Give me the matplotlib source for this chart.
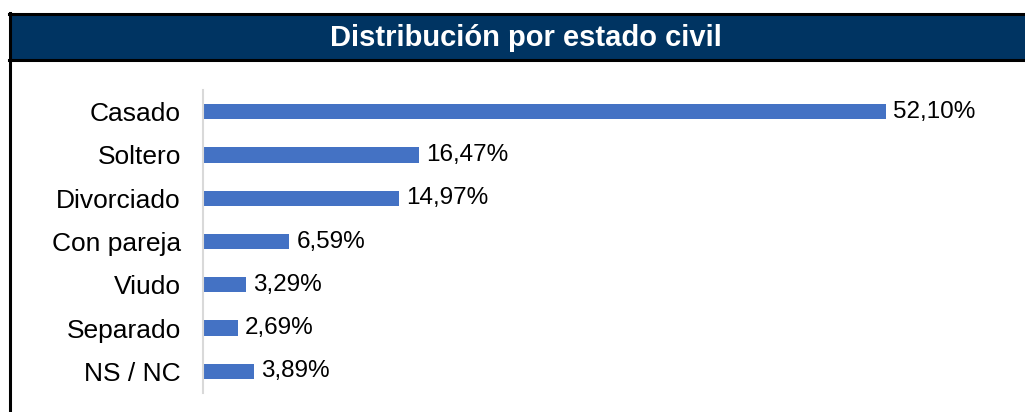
import matplotlib.pyplot as plt
from matplotlib.patches import Rectangle
from matplotlib.lines import Line2D

categories = ["Casado", "Soltero", "Divorciado", "Con pareja", "Viudo", "Separado", "NS / NC"]
values = [52.10, 16.47, 14.97, 6.59, 3.29, 2.69, 3.89]
title = "Distribución por estado civil"

W, H = 1025, 412
plt.rcParams['font.family'] = ['Liberation Sans', 'DejaVu Sans']

fig = plt.figure(figsize=(W / 100, H / 100), dpi=100)
fig.patch.set_facecolor("white")


def fx(px):
    return px / W


def fy(py):
    return 1 - py / H


# header band and frame
fig.add_artist(Rectangle((fx(9), fy(60)), fx(1040) - fx(9), fy(14) - fy(60),
                         transform=fig.transFigure, facecolor="#003462", edgecolor="none"))
fig.add_artist(Line2D([fx(9), fx(1025)], [fy(14), fy(14)], transform=fig.transFigure,
                      color="black", lw=2.2))
fig.add_artist(Line2D([fx(9), fx(1025)], [fy(60), fy(60)], transform=fig.transFigure,
                      color="black", lw=2.2))
fig.add_artist(Line2D([fx(9.5), fx(9.5)], [fy(13), fy(412)], transform=fig.transFigure,
                      color="black", lw=2.2))
fig.text(fx(526), fy(38), title, color="white", fontsize=21, fontweight="bold",
         ha="center", va="center")

ax = fig.add_axes([fx(203), fy(393), fx(1000) - fx(203), (393 - 90) / H])
ypos = list(range(len(categories)))
ax.barh(ypos, values, height=0.35, color="#4472C4")
ax.set_ylim(len(categories) - 0.5, -0.5)
ax.set_xlim(0, 797 / 13.11)
ax.set_yticks(ypos)
ax.set_yticklabels(categories, fontsize=19)
ax.tick_params(axis="y", length=0, pad=16)
ax.set_xticks([])
for s in ["top", "right", "bottom"]:
    ax.spines[s].set_visible(False)
ax.spines["left"].set_color("#D9D9D9")
ax.spines["left"].set_linewidth(1.5)

for y, v in zip(ypos, values):
    ax.annotate(f"{v:.2f}%".replace(".", ","), (v, y), xytext=(5, 0),
                textcoords="offset points", va="center", ha="left", fontsize=17.5)

fig.savefig("out.png", dpi=100)
